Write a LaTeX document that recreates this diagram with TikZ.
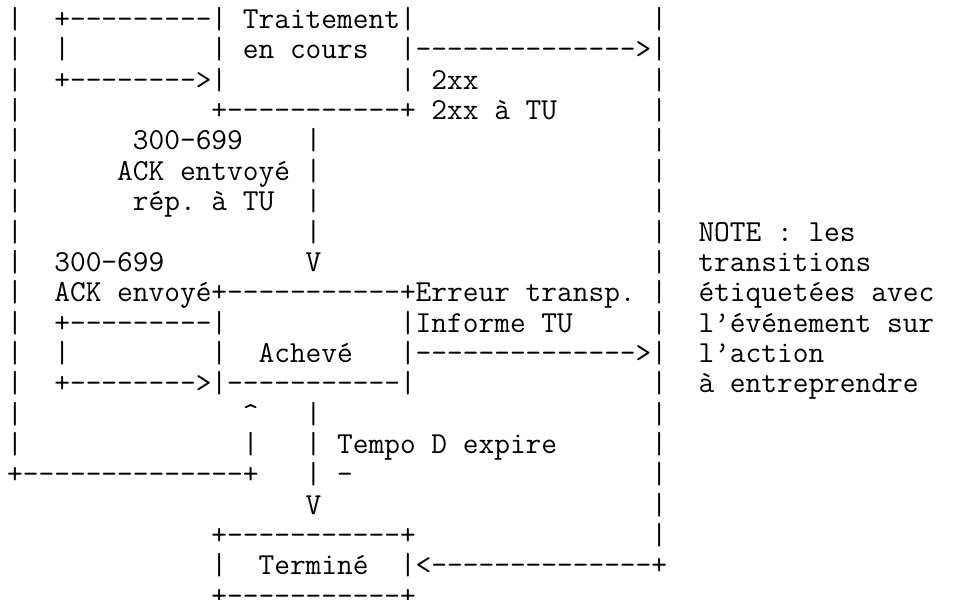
\documentclass[tikz,border=0pt]{standalone}
\usepackage{tikz}
\newcommand{\colskip}[1]{\kern#1\fontcharwd\font`x\relax}
\begin{document}
\begin{tikzpicture}[
    x=1pt, y=1pt,
    row/.style={anchor=base west, inner sep=0pt, font=\fontsize{30.51}{30.35}\selectfont\ttfamily\frenchspacing}
  ]
    \useasboundingbox (0,0) rectangle (954,-600);

    \node[row] (r1) at (7,-28.50) {|\colskip{2}+---------| Traitement|\colskip{15}|};
    \node[row] (r2) at (7,-58.86) {|\colskip{2}|\colskip{9}| en cours\colskip{2}|-------------->|};
    \node[row] (r3) at (7,-89.22) {|\colskip{2}+-------->|\colskip{11}| 2xx\colskip{11}|};
    \node[row] (r4) at (7,-119.58) {|\colskip{12}+-----------+ 2xx à TU\colskip{6}|};
    \node[row] (r5) at (7,-149.94) {|\colskip{7}300-699\colskip{4}|\colskip{21}|};
    \node[row] (r6) at (7,-180.30) {|\colskip{6}ACK entvoyé |\colskip{21}|};
    \node[row] (r7) at (7,-210.66) {|\colskip{7}rép. à TU\colskip{2}|\colskip{21}|};
    \node[row] (r8) at (7,-241.02) {|\colskip{18}|\colskip{21}|\colskip{2}NOTE : les};
    \node[row] (r9) at (7,-271.38) {|\colskip{2}300-699\colskip{9}V\colskip{21}|\colskip{2}transitions};
    \node[row] (r10) at (7,-301.74) {|\colskip{2}ACK envoyé+-----------+Erreur transp. |\colskip{2}étiquetées avec};
    \node[row] (r11) at (7,-332.10) {|\colskip{2}+---------|\colskip{11}|Informe TU\colskip{5}|\colskip{2}l’événement sur};
    \node[row] (r12) at (7,-362.46) {|\colskip{2}|\colskip{9}|\colskip{2}Achevé\colskip{3}|-------------->|\colskip{2}l’action};
    \node[row] (r13) at (7,-392.82) {|\colskip{2}+-------->|-----------|\colskip{15}|\colskip{2}à entreprendre};
    \node[row] (r14) at (7,-423.18) {|\colskip{14}\textasciicircum\colskip{3}|\colskip{21}|};
    \node[row] (r15) at (7,-453.54) {|\colskip{14}|\colskip{3}| Tempo D expire\colskip{6}|};
    \node[row] (r16) at (7,-483.90) {+--------------+\colskip{3}| -\colskip{19}|};
    \node[row] (r17) at (7,-514.26) {\colskip{19}V\colskip{21}|};
    \node[row] (r18) at (7,-544.62) {\colskip{13}+-----------+\colskip{15}|};
    \node[row] (r19) at (7,-574.98) {\colskip{13}|\colskip{2}Terminé\colskip{2}|<--------------+};
    \node[row] (r20) at (7,-605.34) {\colskip{13}+-----------+};
\end{tikzpicture}
\end{document}
